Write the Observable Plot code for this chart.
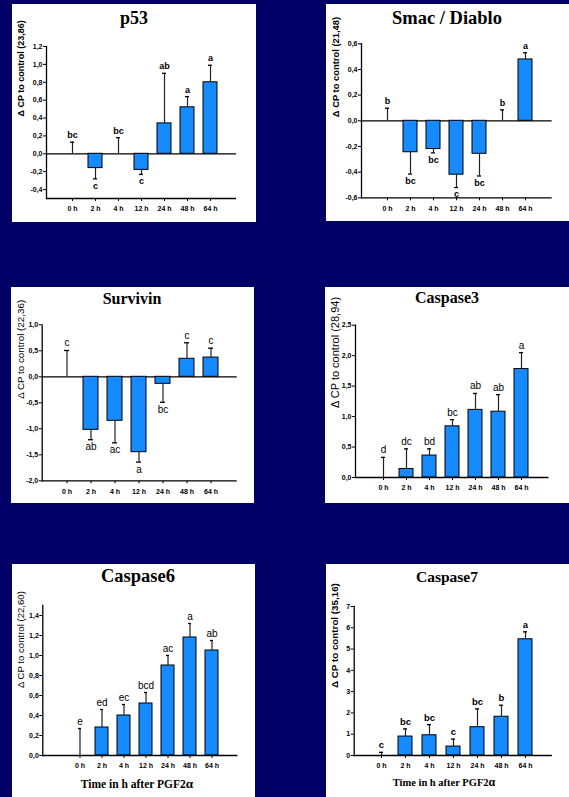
<!DOCTYPE html>
<html><head><meta charset="utf-8">
<script src="https://cdn.jsdelivr.net/npm/d3@7"></script>
<script src="https://cdn.jsdelivr.net/npm/@observablehq/plot@0.6"></script>
<style>
html,body{margin:0;padding:0}
body{background:#000066;width:569px;height:797px;position:relative;overflow:hidden}
.panel{position:absolute;background:#fff;overflow:hidden}
.title,.xtitle{position:absolute;white-space:nowrap;font-family:'Liberation Serif','Times New Roman',serif;font-weight:bold;line-height:1;color:#000;transform:translateX(-50%)}
.chart{position:absolute;left:0}
.chart svg{overflow:visible}
</style></head><body>
<script>
// ---- data ----
const categories = ["0 h", "2 h", "4 h", "12 h", "24 h", "48 h", "64 h"];

const p53Values  = [0, -0.16, 0, -0.18, 0.34, 0.52, 0.80];
const p53Err     = [0.13, 0.12, 0.18, 0.05, 0.56, 0.12, 0.19];
const p53Letters = ["bc", "c", "bc", "c", "ab", "a", "a"];
const p53Ticks   = [-0.4, -0.2, 0, 0.2, 0.4, 0.6, 0.8, 1.0, 1.2];

const smacValues  = [0, -0.245, -0.22, -0.42, -0.257, 0, 0.478];
const smacErr     = [0.098, 0.17, 0.03, 0.10, 0.173, 0.085, 0.052];
const smacLetters = ["b", "bc", "bc", "c", "bc", "b", "a"];
const smacTicks   = [-0.6, -0.4, -0.2, 0, 0.2, 0.4, 0.6];

const survivinValues  = [0, -1.02, -0.846, -1.45, -0.135, 0.346, 0.37];
const survivinErr     = [0.506, 0.19, 0.424, 0.19, 0.355, 0.308, 0.18];
const survivinLetters = ["c", "ab", "ac", "a", "bc", "c", "c"];
const survivinTicks   = [-2, -1.5, -1, -0.5, 0, 0.5, 1];

const casp3Values  = [0, 0.14, 0.36, 0.84, 1.11, 1.08, 1.78];
const casp3Err     = [0.33, 0.33, 0.11, 0.11, 0.27, 0.28, 0.27];
const casp3Letters = ["d", "dc", "bd", "bc", "ab", "ab", "a"];
const casp3Ticks   = [0, 0.5, 1, 1.5, 2, 2.5];

const casp6Values  = [0, 0.28, 0.40, 0.52, 0.90, 1.18, 1.05];
const casp6Err     = [0.27, 0.18, 0.11, 0.11, 0.10, 0.14, 0.10];
const casp6Letters = ["e", "ed", "ec", "bcd", "ac", "a", "ab"];
const casp6Ticks   = [0, 0.2, 0.4, 0.6, 0.8, 1.0, 1.2, 1.4];

const casp7Values  = [0, 0.89, 0.95, 0.42, 1.33, 1.82, 5.46];
const casp7Err     = [0.15, 0.36, 0.50, 0.35, 0.86, 0.54, 0.35];
const casp7Letters = ["c", "bc", "bc", "c", "bc", "b", "a"];
const casp7Ticks   = [0, 1, 2, 3, 4, 5, 6, 7];

const titles  = ["p53", "Smac / Diablo", "Survivin", "Caspase3", "Caspase6", "Caspase7"];
const yLabels = ["Δ CP to control (23,86)", "Δ CP to control (21,48)", "Δ CP to control (22,36)",
                 "Δ CP to control (28,94)", "Δ CP to control (22,60)", "Δ CP to control (35,16)"];
const xTitle = "Time in h after PGF2";

// ---- layout / style ----
const BAR = "#168bff";
const comma = d => d.toFixed(1).replace(".", ",");
const integer = d => String(d);

const panels = [
  {left:12, top:4, w:244, h:218, tSize:18, tBase:20, tCx:122, svgTop:26, svgH:192, mt:16, mb:24, ml:34, mr:20,
   domain:[-0.5,1.2], ticks:p53Ticks, fmt:comma, values:p53Values, errs:p53Err, letters:p53Letters,
   lx:9, ldy:-6, lSize:9, lBold:true, letBold:true, letSize:9, pi:0.38, po:0.69, align:0.5},
  {left:326, top:4, w:243, h:217, tSize:18.5, tBase:20.5, tCx:121, svgTop:26, svgH:191, mt:13.3, mb:23.7, ml:35, mr:17.3,
   domain:[-0.6,0.6], ticks:smacTicks, fmt:comma, values:smacValues, errs:smacErr, letters:smacLetters,
   lx:9, ldy:-3.6, lSize:9.4, lBold:true, letBold:true, letSize:9, pi:0.385, po:0.68, align:0.5},
  {left:11, top:287, w:243, h:216, tSize:16, tBase:17, tCx:121, svgTop:22, svgH:194, mt:15.3, mb:22.7, ml:30.7, mr:17.3,
   domain:[-2,1], ticks:survivinTicks, fmt:comma, values:survivinValues, errs:survivinErr, letters:survivinLetters,
   lx:9.7, ldy:-4, lSize:9.8, lBold:false, letBold:false, letSize:10, pi:0.355, po:0.71, align:0.5},
  {left:325, top:287, w:244, h:216, tSize:16, tBase:16.5, tCx:122, svgTop:22, svgH:194, mt:15.7, mb:26, ml:30, mr:20.7,
   domain:[0,2.5], ticks:casp3Ticks, fmt:comma, values:casp3Values, errs:casp3Err, letters:casp3Letters,
   lx:10, ldy:6.7, lSize:11, lBold:false, letBold:false, letSize:10, pi:0.38, po:0.745, align:0.5},
  {left:12, top:564, w:243, h:233, tSize:18.5, tBase:18, tCx:126, svgTop:24, svgH:186, mt:17, mb:19, ml:30.3, mr:17.7,
   domain:[0,1.5], ticks:casp6Ticks, fmt:comma, values:casp6Values, errs:casp6Err, letters:casp6Letters,
   lx:8, ldy:7.5, lSize:9.6, lBold:false, letBold:false, letSize:10, pi:0.40, po:0.975, align:0.61,
   xt:{base:223, cx:125, size:11.5}},
  {left:326, top:564, w:243, h:233, tSize:15.5, tBase:18, tCx:121, svgTop:24, svgH:186, mt:18, mb:19, ml:27.7, mr:17.3,
   domain:[0,7], ticks:casp7Ticks, fmt:integer, values:casp7Values, errs:casp7Err, letters:casp7Letters,
   lx:8, ldy:7, lSize:9.8, lBold:true, letBold:true, letSize:9.5, pi:0.40, po:0.73, align:0.5,
   xt:{base:221, cx:118, size:10.5}}
];

panels.forEach((p, k) => {
  const div = document.createElement("div");
  div.className = "panel";
  Object.assign(div.style, {left:p.left+"px", top:p.top+"px", width:p.w+"px", height:p.h+"px"});
  document.body.appendChild(div);

  const t = document.createElement("div");
  t.className = "title";
  t.textContent = titles[k];
  Object.assign(t.style, {fontSize:p.tSize+"px", top:(p.tBase - 0.8375*p.tSize)+"px", left:p.tCx+"px"});
  div.appendChild(t);

  const data = categories.map((c, i) => ({
    cat: c, v: p.values[i], lab: p.letters[i],
    end: p.values[i] >= 0 ? p.values[i] + p.errs[i] : p.values[i] - p.errs[i]
  }));

  const chart = Plot.plot({
    width: p.w, height: p.svgH,
    marginTop: p.mt, marginBottom: p.mb, marginLeft: p.ml, marginRight: p.mr,
    style: {background: "transparent", color: "#000", fontFamily: "'Liberation Sans', Arial, sans-serif"},
    x: {type: "band", domain: categories, paddingInner: p.pi, paddingOuter: p.po, align: p.align, label: null},
    y: {domain: p.domain, label: null},
    marks: [
      Plot.ruleY([0], {stroke: "#000", strokeWidth: 1.2}),
      Plot.barY(data.filter(d => d.v !== 0), {x: "cat", y: "v", fill: BAR, stroke: "#000", strokeWidth: 1}),
      Plot.ruleX(data, {x: "cat", y1: "v", y2: "end", stroke: "#222", strokeWidth: 1.2}),
      Plot.tickY(data, {x: "cat", y: "end", stroke: "#000", strokeWidth: 1.3, insetLeft: 5, insetRight: 5}),
      Plot.text(data.filter(d => d.v >= 0), {x: "cat", y: "end", text: "lab", lineAnchor: "bottom", dy: -4,
        fontSize: p.letSize, fontWeight: p.letBold ? "bold" : "normal", fill: "#000"}),
      Plot.text(data.filter(d => d.v < 0), {x: "cat", y: "end", text: "lab", lineAnchor: "top", dy: 3.5,
        fontSize: p.letSize, fontWeight: p.letBold ? "bold" : "normal", fill: "#000"}),
      Plot.axisY({ticks: p.ticks, tickFormat: p.fmt, tickSize: 3, tickPadding: 1, fontSize: 7, fontWeight: "bold", label: null}),
      Plot.axisX({tickSize: 3, tickPadding: 5, fontSize: 7, fontWeight: "bold", label: null}),
      Plot.ruleY([p.domain[0]], {stroke: "#000", strokeWidth: 1.3}),
      Plot.frame({anchor: "left", stroke: "#000", strokeWidth: 1.3}),
      Plot.text([yLabels[k]], {frameAnchor: "left", rotate: -90, dx: p.lx - p.ml, dy: p.ldy, lineAnchor: "middle",
        fontSize: p.lSize, fontWeight: p.lBold ? "bold" : "normal", fill: "#000"})
    ]
  });
  const holder = document.createElement("div");
  holder.className = "chart";
  holder.style.top = p.svgTop + "px";
  holder.appendChild(chart);
  div.appendChild(holder);

  if (p.xt) {
    const x = document.createElement("div");
    x.className = "xtitle";
    x.innerHTML = xTitle + '<span style="font-size:1.15em">α</span>';
    Object.assign(x.style, {fontSize:p.xt.size+"px", top:(p.xt.base - 0.8375*p.xt.size)+"px", left:p.xt.cx+"px"});
    div.appendChild(x);
  }
});
</script>
</body></html>
